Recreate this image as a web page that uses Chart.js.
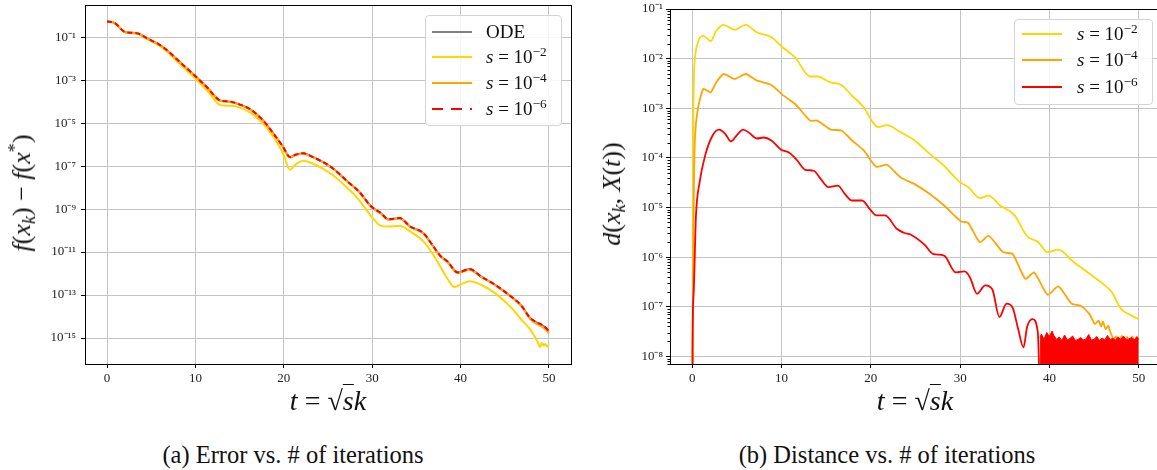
<!DOCTYPE html>
<html>
<head>
<meta charset="utf-8">
<script src="https://cdn.jsdelivr.net/npm/chart.js@4.4.1/dist/chart.umd.min.js"></script>
<style>
  html, body { margin: 0; padding: 0; background: #fff; overflow: hidden; }
  body { width: 1157px; height: 470px; position: relative; font-family: "Liberation Serif", serif; color: #111; }
  canvas { position: absolute; top: 0; }
  .lab { position: absolute; white-space: nowrap; font-size: 26px; line-height: 1; font-family: "Liberation Serif", serif; }
  .lab i { font-style: italic; }
  .lab sub { font-size: 0.7em; vertical-align: -0.3em; line-height: 0; }
  .lab sup { font-size: 0.7em; vertical-align: 0.5em; line-height: 0; }
  .rot { transform: translate(-50%, -50%) rotate(-90deg); }
  .hor { transform: translate(-50%, -50%); }
  .legend { position: absolute; background: rgba(255,255,255,0.85); border: 1px solid #d4d4d4; border-radius: 4px; box-sizing: border-box; }
  .row { position: absolute; left: 0; height: 0; }
  .swatch { position: absolute; width: 40px; height: 2px; top: -1px; }
  .txt { position: absolute; top: -11px; font-size: 19px; line-height: 22px; white-space: nowrap; }
  .txt sup { font-size: 0.7em; vertical-align: 0.55em; line-height: 0; }
  .cap { position: absolute; top: 455px; transform: translate(-50%, -50%); font-size: 24.5px; white-space: nowrap; }
</style>
</head>
<body>
<canvas id="errChart" width="580" height="420" style="left:0px"></canvas>
<canvas id="distChart" width="590" height="420" style="left:580px"></canvas>

<!-- axis titles -->
<div class="lab rot" style="left:22px; top:193px;"><i>f</i>(<i>x</i><sub><i>k</i></sub>) &minus; <i>f</i>(<i>x</i><sup>*</sup>)</div>
<div class="lab hor" style="left:328px; top:401px; font-size:28px;"><i>t</i> = &radic;<span style="border-top:1.5px solid #111;"><i>s</i></span><i>k</i></div>
<div class="lab rot" style="left:612px; top:194px;"><i>d</i>(<i>x</i><sub><i>k</i></sub>, <i>X</i>(<i>t</i>))</div>
<div class="lab hor" style="left:915px; top:401px; font-size:28px;"><i>t</i> = &radic;<span style="border-top:1.5px solid #111;"><i>s</i></span><i>k</i></div>

<!-- legends -->
<div class="legend" style="left:425px; top:15px; width:137px; height:111px;">
  <div class="row" style="top:16px;"><div class="swatch" style="left:6px; background:gray;"></div><div class="txt" style="left:60px;">ODE</div></div>
  <div class="row" style="top:41px;"><div class="swatch" style="left:6px; background:gold;"></div><div class="txt" style="left:60px;"><i>s</i> = 10<sup>&minus;2</sup></div></div>
  <div class="row" style="top:67px;"><div class="swatch" style="left:6px; background:orange;"></div><div class="txt" style="left:60px;"><i>s</i> = 10<sup>&minus;4</sup></div></div>
  <div class="row" style="top:93px;"><div class="swatch" style="left:6px; background:repeating-linear-gradient(90deg, red 0 11px, transparent 11px 19px);"></div><div class="txt" style="left:60px;"><i>s</i> = 10<sup>&minus;6</sup></div></div>
</div>
<div class="legend" style="left:1014px; top:19px; width:139px; height:86px;">
  <div class="row" style="top:14px;"><div class="swatch" style="left:7px; background:gold;"></div><div class="txt" style="left:62px;"><i>s</i> = 10<sup>&minus;2</sup></div></div>
  <div class="row" style="top:40px;"><div class="swatch" style="left:7px; background:orange;"></div><div class="txt" style="left:62px;"><i>s</i> = 10<sup>&minus;4</sup></div></div>
  <div class="row" style="top:67px;"><div class="swatch" style="left:7px; background:red;"></div><div class="txt" style="left:62px;"><i>s</i> = 10<sup>&minus;6</sup></div></div>
</div>

<div class="cap" style="left:293px;">(a) Error vs. # of iterations</div>
<div class="cap" style="left:887px;">(b) Distance vs. # of iterations</div>

<script>
// all y values below are log10 of the plotted quantity

////////////////////////////// (a) error f(x_k) - f(x*)
const tMain = [0, 0.84, 2.1, 3.35, 4.6, 5.86, 6.5, 7.95, 10.04, 11.3, 12.9, 13.8, 14.6, 16.3, 17.6, 18.8, 19.9, 20.7, 21.3, 22.2, 23.0, 24.3, 25.5, 27.2, 28.5, 29.9, 31.0, 31.8, 33.1, 34.3, 35.8, 36.8, 37.7, 38.5, 39.7, 41.0, 42.3, 43.9, 45.6, 46.9, 47.9, 48.7, 49.4, 50];
const errODE = [-0.27, -0.33, -0.77, -0.81, -1.07, -1.33, -1.51, -2.05, -2.83, -3.33, -3.96, -3.99, -4.07, -4.38, -4.85, -5.47, -6.09, -6.58, -6.47, -6.40, -6.52, -6.78, -7.09, -7.71, -8.18, -8.88, -9.19, -9.47, -9.42, -9.81, -10.12, -10.66, -11.17, -11.43, -11.95, -11.79, -12.13, -12.52, -13.03, -13.50, -14.08, -14.30, -14.45, -14.66];
const errS4 = [-0.27, -0.33, -0.77, -0.81, -1.07, -1.33, -1.52, -2.06, -2.84, -3.34, -3.97, -4.00, -4.08, -4.39, -4.86, -5.48, -6.10, -6.60, -6.49, -6.42, -6.53, -6.79, -7.10, -7.72, -8.19, -8.90, -9.21, -9.49, -9.44, -9.83, -10.14, -10.68, -11.19, -11.46, -11.98, -11.82, -12.15, -12.54, -13.05, -13.53, -14.12, -14.36, -14.52, -14.77];
const errS6 = [-0.27, -0.33, -0.77, -0.81, -1.07, -1.33, -1.51, -2.05, -2.83, -3.33, -3.96, -3.99, -4.07, -4.38, -4.85, -5.47, -6.09, -6.58, -6.47, -6.40, -6.52, -6.78, -7.09, -7.71, -8.18, -8.88, -9.19, -9.47, -9.42, -9.81, -10.12, -10.66, -11.17, -11.43, -11.95, -11.79, -12.13, -12.52, -13.03, -13.50, -14.08, -14.28, -14.43, -14.68];

const tS2 = [0, 0.84, 2.1, 3.35, 4.6, 5.86, 6.5, 7.95, 10.04, 11.3, 12.9, 13.8, 14.6, 16.3, 17.6, 18.8, 19.9, 20.7, 21.3, 22.2, 23.0, 24.3, 25.5, 27.2, 28.5, 29.9, 31.0, 31.8, 33.1, 34.3, 35.8, 36.8, 37.7, 38.6, 39.3, 40.2, 41.0, 42.3, 43.9, 45.6, 46.9, 47.9, 48.7, 49.0, 49.2, 49.4, 49.6, 49.8, 50];
const errS2 = [-0.27, -0.34, -0.79, -0.83, -1.10, -1.37, -1.56, -2.13, -2.95, -3.47, -4.17, -4.19, -4.22, -4.53, -5.00, -5.62, -6.40, -7.17, -6.94, -6.75, -6.83, -7.09, -7.40, -8.02, -8.57, -9.34, -9.78, -9.81, -9.78, -10.04, -10.50, -11.05, -11.67, -12.29, -12.63, -12.47, -12.36, -12.52, -12.91, -13.53, -14.15, -14.61, -15.16, -15.42, -15.22, -15.36, -15.28, -15.40, -15.31];

const errTicks = [1e-1, 1e-3, 1e-5, 1e-7, 1e-9, 1e-11, 1e-13, 1e-15];

////////////////////////////// (b) distance d(x_k, X(t))
const tD2 = [0, 0.12, 0.29, 0.62, 1.24, 2.06, 2.68, 3.5, 4.74, 5.98, 7.2, 8.86, 10.1, 11.5, 13.2, 14.0, 15.5, 16.7, 17.9, 19.2, 20.2, 20.8, 21.8, 23.3, 24.9, 26.6, 28.2, 29.9, 30.9, 32.2, 33.2, 34.4, 36.1, 37.5, 38.7, 39.8, 41.0, 42.7, 44.3, 46.0, 47.0, 48.0, 49.1, 50];
const distS2 = [-12, -3.15, -2.0, -1.67, -1.54, -1.65, -1.44, -1.32, -1.42, -1.32, -1.47, -1.57, -1.77, -1.97, -2.36, -2.36, -2.48, -2.53, -2.75, -2.98, -3.28, -3.38, -3.34, -3.48, -3.65, -3.92, -4.16, -4.48, -4.59, -4.81, -4.76, -4.95, -5.16, -5.58, -5.69, -5.90, -5.85, -6.10, -6.31, -6.54, -6.71, -7.04, -7.17, -7.25];

const tD4 = [0, 0.04, 0.12, 0.29, 0.62, 1.24, 2.06, 2.68, 3.5, 4.74, 5.98, 7.2, 8.86, 10.1, 11.5, 13.2, 14.0, 15.5, 16.7, 17.9, 19.2, 20.6, 21.8, 23.3, 24.9, 26.6, 28.2, 30.1, 30.9, 32.2, 33.2, 34.8, 35.9, 37.3, 38.3, 39.8, 41.0, 42.5, 43.5, 44.5, 45.1, 45.5, 45.8, 46.0, 46.3, 46.6, 46.8, 47.2, 47.5, 47.8, 48.1, 48.4, 48.7, 49.0, 49.3, 49.6, 50];
const distS4 = [-12, -8, -5.5, -3.62, -3.01, -2.61, -2.68, -2.48, -2.31, -2.41, -2.31, -2.44, -2.53, -2.73, -2.91, -3.25, -3.25, -3.43, -3.45, -3.65, -3.85, -4.18, -4.14, -4.39, -4.53, -4.73, -4.96, -5.28, -5.31, -5.70, -5.57, -5.90, -5.94, -6.44, -6.31, -6.76, -6.59, -6.94, -6.98, -7.15, -7.35, -7.28, -7.40, -7.30, -7.45, -7.38, -7.50, -7.65, -7.60, -7.75, -7.59, -7.78, -7.61, -7.74, -7.60, -7.76, -7.62];

const tD6 = [0, 0.02, 0.12, 0.41, 0.82, 1.44, 2.27, 3.0, 3.7, 4.33, 4.95, 5.7, 6.4, 7.2, 8.0, 8.86, 9.9, 10.9, 11.7, 12.65, 13.6, 14.4, 15.25, 16.3, 17.1, 17.9, 19.0, 20.0, 20.6, 21.6, 22.9, 23.7, 24.5, 26.0, 27.0, 28.2, 29.5, 30.5, 31.1, 31.9, 32.8, 33.6, 34.4, 35.2, 35.9, 36.5, 37.1, 37.5, 38.1, 38.7, 38.95];
const distS6 = [-12, -7.9, -6.84, -5.16, -4.49, -3.95, -3.55, -3.43, -3.52, -3.67, -3.55, -3.43, -3.50, -3.61, -3.59, -3.65, -3.83, -3.90, -4.04, -4.24, -4.26, -4.43, -4.59, -4.56, -4.73, -4.86, -4.86, -5.06, -5.16, -5.16, -5.43, -5.51, -5.55, -5.75, -5.94, -5.97, -6.31, -6.29, -6.41, -6.74, -6.57, -6.65, -7.21, -6.94, -7.03, -7.45, -7.82, -7.41, -7.25, -7.51, -9];

// s=1e-6 after t~39 is machine noise, drawn as its upper envelope filled down to the axis
const tNoise = [38.95, 39.1, 39.4, 39.7, 40.0, 40.3, 40.5, 40.8, 41.1, 41.4, 41.7, 42.0, 42.3, 42.6, 42.9, 43.2, 43.5, 43.8, 44.1, 44.4, 44.7, 45.0, 45.3, 45.6, 45.9, 46.2, 46.5, 46.8, 47.1, 47.4, 47.7, 48.0, 48.3, 48.6, 48.9, 49.2, 49.5, 49.8, 50.0];
const noiseS6 = [-7.62, -7.55, -7.66, -7.52, -7.60, -7.49, -7.58, -7.66, -7.61, -7.68, -7.57, -7.67, -7.64, -7.59, -7.68, -7.66, -7.62, -7.67, -7.65, -7.56, -7.67, -7.66, -7.60, -7.68, -7.63, -7.67, -7.58, -7.66, -7.64, -7.67, -7.61, -7.66, -7.59, -7.67, -7.65, -7.62, -7.67, -7.60, -7.66];

const distTicks = [1e-1, 1e-2, 1e-3, 1e-4, 1e-5, 1e-6, 1e-7, 1e-8];
const xTicks = [0, 10, 20, 30, 40, 50];

//////////////////////////////

function pts(ts, logs) {
  return ts.map(function (t, i) { return { x: t, y: Math.pow(10, logs[i]) }; });
}

const SUP = { "-": "\u207B", "0": "\u2070", "1": "\u00B9", "2": "\u00B2", "3": "\u00B3", "4": "\u2074", "5": "\u2075", "6": "\u2076", "7": "\u2077", "8": "\u2078", "9": "\u2079" };
function powLabel(v) {
  var e = String(Math.round(Math.log10(v)));
  return "10" + e.split("").map(function (c) { return SUP[c]; }).join("");
}

// matplotlib-like box around the axes
const framePlugin = {
  id: "frame",
  afterDraw: function (chart) {
    var a = chart.chartArea, ctx = chart.ctx;
    ctx.save();
    ctx.strokeStyle = "#000";
    ctx.lineWidth = 1;
    ctx.strokeRect(Math.round(a.left) + 0.5, Math.round(a.top) + 0.5, Math.round(a.right - a.left), Math.round(a.bottom - a.top));
    ctx.restore();
  }
};

// minor ticks 2..9 x 10^n on the log axis of chart (b)
const minorPlugin = {
  id: "minorTicks",
  afterDraw: function (chart) {
    var y = chart.scales.y, ctx = chart.ctx, left = chart.chartArea.left;
    ctx.save();
    ctx.strokeStyle = "#000";
    ctx.lineWidth = 1;
    for (var n = -9; n <= -2; n++) {
      for (var k = 2; k <= 9; k++) {
        var v = k * Math.pow(10, n);
        if (v < y.min || v > y.max) continue;
        var py = Math.round(y.getPixelForValue(v)) + 0.5;
        ctx.beginPath();
        ctx.moveTo(left - 2.5, py);
        ctx.lineTo(left, py);
        ctx.stroke();
      }
    }
    ctx.restore();
  }
};

Chart.defaults.font.family = "'Liberation Serif', serif";
Chart.defaults.font.size = 13;
Chart.defaults.color = "#222";

function line(label, data, color, width, order, extra) {
  var ds = {
    label: label, data: data, borderColor: color, backgroundColor: color,
    borderWidth: width, pointRadius: 0, fill: false, order: order,
    cubicInterpolationMode: "monotone"
  };
  return Object.assign(ds, extra || {});
}

function xScale() {
  return {
    type: "linear", min: -2.5, max: 52.5,
    afterBuildTicks: function (ax) { ax.ticks = xTicks.map(function (v) { return { value: v }; }); },
    afterFit: function (ax) { ax.height = 56; ax.paddingLeft = 0; ax.paddingRight = 0; },
    ticks: { padding: 3, maxRotation: 0, autoSkip: false },
    grid: { color: "#c4c4c4", lineWidth: 1, tickColor: "#000", tickLength: 4 },
    border: { display: false }
  };
}

function yScale(min, max, tickVals, width, pad) {
  return {
    type: "logarithmic", min: min, max: max,
    afterBuildTicks: function (ax) { ax.ticks = tickVals.map(function (v) { return { value: v }; }); },
    afterFit: function (ax) { ax.width = width; ax.paddingTop = 0; ax.paddingBottom = 0; },
    ticks: { padding: pad, autoSkip: false, callback: function (v) { return powLabel(v); } },
    grid: { color: "#c4c4c4", lineWidth: 1, tickColor: "#000", tickLength: 4 },
    border: { display: false }
  };
}

const commonOpts = {
  responsive: false,
  devicePixelRatio: 1,
  animation: false,
  plugins: { legend: { display: false }, tooltip: { enabled: false } }
};

new Chart(document.getElementById("errChart"), {
  type: "line",
  data: {
    datasets: [
      line("ODE", pts(tMain, errODE), "gray", 2, 3),
      line("s = 1e-2", pts(tS2, errS2), "gold", 2, 2),
      line("s = 1e-4", pts(tMain, errS4), "orange", 2, 1),
      line("s = 1e-6", pts(tMain, errS6), "red", 2, 0, { borderDash: [5, 3] })
    ]
  },
  options: Object.assign({}, commonOpts, {
    layout: { padding: { top: 5, right: 9, left: 0, bottom: 0 } },
    scales: {
      x: xScale(),
      y: yScale(Math.pow(10, -16.21), Math.pow(10, 0.5), errTicks, 85, 5)
    }
  }),
  plugins: [framePlugin]
});

new Chart(document.getElementById("distChart"), {
  type: "line",
  data: {
    datasets: [
      line("s = 1e-2", pts(tD2, distS2), "gold", 1.8, 3),
      line("s = 1e-4", pts(tD4, distS4), "orange", 1.8, 2, { cubicInterpolationMode: "default", tension: 0.2 }),
      line("s = 1e-6", pts(tD6, distS6), "red", 1.8, 1),
      line("s = 1e-6 noise", pts(tNoise, noiseS6), "red", 1, 0, { fill: "start", tension: 0, cubicInterpolationMode: "default" })
    ]
  },
  options: Object.assign({}, commonOpts, {
    layout: { padding: { top: 9, right: 9, left: 0, bottom: 0 } },
    scales: {
      x: xScale(),
      y: yScale(Math.pow(10, -8.14), 1e-1, distTicks, 90, 3)
    }
  }),
  plugins: [framePlugin, minorPlugin]
});
</script>
</body>
</html>
